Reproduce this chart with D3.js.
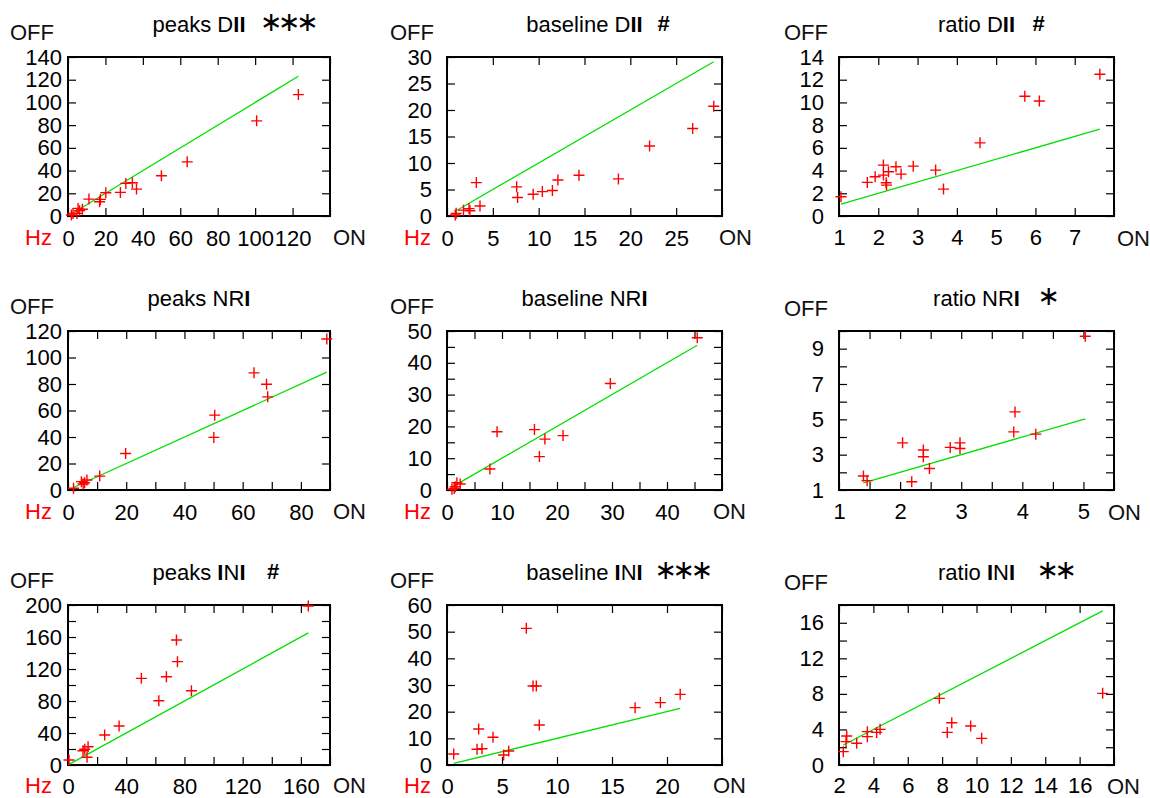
<!DOCTYPE html>
<meta charset="utf-8">
<head>
    <title>ON vs OFF firing rates</title>
    <script type="text/javascript" src="https://cdnjs.cloudflare.com/ajax/libs/d3/7.8.5/d3.min.js"></script>
    <style type="text/css">
        body { margin: 0; background: #fff; }
        svg { font-family: "Liberation Sans", Arial, Helvetica, sans-serif; }
        .sig { font-family: "DejaVu Sans", sans-serif; }
    </style>
</head>
<body>
    <div id="grid"></div>
    <script>
        // [ON, OFF] pairs
        var peaksDII = [[123.1,106.9],[100.8,83.8],[63.7,47.7],[49.9,35.4],[36.6,23.7],[34.4,29.3],[30.9,28.7],[28.0,20.8],[20.2,20.5],[16.9,12.6],[17.3,14.6],[11.2,14.9],[6.2,4.7],[7.7,5.9],[5.4,6.7],[4.8,2.3],[1.8,0.9],[2.7,2.3]];
        var baselineDII = [[29.1,20.7],[26.8,16.5],[22.1,13.2],[18.7,7.0],[14.4,7.7],[12.1,6.8],[11.5,4.8],[10.4,4.6],[9.4,4.1],[7.6,5.5],[7.7,3.5],[3.2,6.3],[3.6,1.9],[2.5,1.0],[2.4,1.4],[1.8,1.1],[1.0,0.5],[0.9,0.2]];
        var ratioDII = [[7.64,12.48],[5.73,10.54],[6.10,10.13],[4.59,6.44],[3.46,4.04],[3.66,2.37],[2.89,4.39],[2.58,3.69],[2.45,4.33],[2.26,3.90],[2.13,4.48],[2.13,3.60],[2.20,2.93],[2.21,2.72],[1.92,3.46],[1.72,2.96],[1.05,1.70]];
        var peaksNRI = [[88.9,114.0],[63.9,88.4],[68.2,79.8],[68.6,70.3],[50.4,56.5],[50.1,39.7],[19.8,27.6],[10.9,10.5],[6.5,7.5],[5.7,5.5],[4.6,6.3],[5.2,4.5],[1.9,1.3]];
        var baselineNRI = [[45.5,47.9],[29.7,33.5],[9.1,18.3],[15.9,19.0],[17.8,16.0],[21.1,17.1],[16.8,10.5],[7.8,6.6],[2.4,1.9],[1.8,2.3],[1.5,1.0],[0.9,0.2],[1.3,0.5]];
        var ratioNRI = [[5.03,9.70],[3.88,5.42],[3.86,4.29],[4.22,4.16],[2.98,3.67],[2.98,3.35],[2.82,3.41],[2.38,3.26],[2.38,2.88],[2.48,2.22],[2.04,3.67],[2.19,1.47],[1.40,1.79],[1.46,1.53]];
        var peaksINI = [[165.1,198.8],[74.5,156.3],[75.2,129.2],[67.6,110.4],[50.4,108.3],[62.4,80.4],[84.8,92.9],[35.1,48.8],[25.2,37.5],[13.8,22.9],[11.5,19.6],[10.3,17.9],[13.1,9.6],[0.7,6.3]];
        var baselineINI = [[7.21,51.25],[7.82,29.6],[8.12,29.6],[8.39,15.0],[17.1,21.5],[19.4,23.4],[21.2,26.5],[2.88,13.5],[4.18,10.4],[2.73,5.9],[3.18,6.1],[5.15,3.75],[5.61,5.25],[0.61,4.1]];
        var ratioINI = [[17.34,8.06],[7.84,7.5],[8.56,4.76],[8.30,3.67],[9.66,4.39],[10.30,3.0],[4.39,4.01],[4.19,3.67],[3.65,3.75],[3.65,3.19],[3.03,2.44],[2.45,3.26],[2.41,2.63],[2.25,1.5]];

        var panelData = [peaksDII, baselineDII, ratioDII, peaksNRI, baselineNRI, ratioNRI, peaksINI, baselineINI, ratioINI];
        var titles = ["peaks DII", "baseline DII", "ratio DII", "peaks NRI", "baseline NRI", "ratio NRI", "peaks INI", "baseline INI", "ratio INI"];
        var sigMarks = ["\u2217\u2217\u2217", "#", "#", "", "", "\u2217", "#", "\u2217\u2217\u2217", "\u2217\u2217"];

        // axis ranges, tick steps and labelled ticks
        var xDomains = [[0,140],[0,30],[1,8],[0,90],[0,50],[1,5.5],[0,180],[0,25],[2,18]];
        var yDomains = [[0,140],[0,30],[0,14],[0,120],[0,50],[1,10],[0,200],[0,60],[0,18]];
        var xSteps = [20,5,1,10,5,0.5,20,5,2];
        var ySteps = [20,5,2,20,5,1,20,10,2];
        var xLabels = [[0,20,40,60,80,100,120],[0,5,10,15,20,25],[1,2,3,4,5,6,7],[0,20,40,60,80],[0,10,20,30,40],[1,2,3,4,5],[0,40,80,120,160],[0,5,10,15,20],[2,4,6,8,10,12,14,16]];
        var yLabels = [[0,20,40,60,80,100,120,140],[0,5,10,15,20,25,30],[0,2,4,6,8,10,12,14],[0,20,40,60,80,100,120],[0,10,20,30,40,50],[1,3,5,7,9],[0,40,80,120,160,200],[0,10,20,30,40,50,60],[0,4,8,12,16]];

        // layout
        var width = 1150, height = 798;
        var colLeft = [68, 447, 839], colRight = [330, 722, 1114];
        var rowTop = [57, 331, 605], rowBottom = [216, 490, 765];
        var yPad = [6, 15, 15];
        var xPad = [14, 14, 13];
        var offX = [10, 390, 784];
        var onDx = [3, -3, 3, 3, -9, -6, 3, -9, -7];
        var sigDx = [61, 73, 56, 0, 0, 61, 68, 70, 60];
        var fs = 22;

        var svg = d3.select("#grid").append("svg")
            .attr("width", width)
            .attr("height", height);

        function hasLabel(list, v) {
            return list.some(function(l){ return Math.abs(l - v) < 1e-6; });
        }

        function styleAxis(g) {
            g.attr("font-size", null).attr("font-family", null);
            g.select(".domain").remove();
            g.selectAll("line").attr("stroke", "#000").attr("stroke-width", 1.2);
            g.selectAll("text").attr("fill", "#000").style("font-size", fs + "px");
        }

        panelData.forEach(function(data, i) {
            var r = Math.floor(i / 3), c = i % 3;
            var x = d3.scaleLinear().domain(xDomains[i]).range([colLeft[c], colRight[c]]);
            var y = d3.scaleLinear().domain(yDomains[i]).range([rowBottom[r], rowTop[r]]);
            var xt = d3.range(xDomains[i][0], xDomains[i][1] + 1e-9, xSteps[i]);
            var yt = d3.range(yDomains[i][0], yDomains[i][1] + 1e-9, ySteps[i]);
            var g = svg.append("g");
            var labelBase = rowBottom[r] + 29 - (r === 2 ? 1 : 0);

            // ticks on all four sides, pointing inwards
            g.append("g").attr("transform", "translate(0," + rowBottom[r] + ")")
                .call(d3.axisBottom(x).tickValues(xt).tickSize(-8).tickPadding(xPad[c] - (r === 2 ? 1 : 0))
                    .tickFormat(function(d){ return hasLabel(xLabels[i], d) ? d : ""; }))
                .call(styleAxis);
            g.append("g").attr("transform", "translate(0," + rowTop[r] + ")")
                .call(d3.axisTop(x).tickValues(xt).tickSize(-8).tickFormat(""))
                .call(styleAxis);
            g.append("g").attr("transform", "translate(" + colLeft[c] + ",0)")
                .call(d3.axisLeft(y).tickValues(yt).tickSize(-8).tickPadding(yPad[c])
                    .tickFormat(function(d){ return hasLabel(yLabels[i], d) ? d : ""; }))
                .call(styleAxis);
            g.append("g").attr("transform", "translate(" + colRight[c] + ",0)")
                .call(d3.axisRight(y).tickValues(yt).tickSize(-8).tickFormat(""))
                .call(styleAxis);

            // frame
            g.append("rect")
                .attr("x", colLeft[c]).attr("y", rowTop[r])
                .attr("width", colRight[c] - colLeft[c])
                .attr("height", rowBottom[r] - rowTop[r])
                .attr("fill", "none").attr("stroke", "#000").attr("stroke-width", 2);

            // identity line over the range of the data
            var ext = d3.extent(data, function(d){ return d[0]; });
            g.append("line")
                .attr("x1", x(ext[0])).attr("y1", y(ext[0]))
                .attr("x2", x(ext[1])).attr("y2", y(ext[1]))
                .attr("stroke", "#00e000").attr("stroke-width", 1.3);

            // red plus markers
            var s = 5.5;
            g.selectAll("path.pt").data(data).enter().append("path")
                .attr("class", "pt")
                .attr("d", function(d){
                    var px = x(d[0]), py = y(d[1]);
                    return "M" + (px - s) + "," + py + "H" + (px + s) + "M" + px + "," + (py - s) + "V" + (py + s);
                })
                .attr("stroke", "#ff0000").attr("stroke-width", 1.4).attr("fill", "none");

            // title, with the I letters in bold
            var cx = (colLeft[c] + colRight[c]) / 2;
            var tBase = rowTop[r] - 25;
            var t = g.append("text").attr("x", cx).attr("y", tBase)
                .attr("text-anchor", "middle").style("font-size", fs + "px");
            titles[i].split("").forEach(function(ch){
                t.append("tspan").attr("font-weight", ch === "I" ? "bold" : null).text(ch);
            });

            if (sigMarks[i] !== "") {
                var isHash = sigMarks[i] === "#";
                g.append("text").attr("class", isHash ? null : "sig")
                    .attr("x", cx + sigDx[i])
                    .attr("y", isHash ? tBase - 1 : tBase - 1)
                    .style("font-size", isHash ? fs + "px" : "27px")
                    .style("letter-spacing", isHash ? null : "-4.5px")
                    .style("font-weight", isHash ? "bold" : null)
                    .text(sigMarks[i]);
            }

            // axis words
            g.append("text").attr("x", offX[c]).attr("y", rowTop[r] - 17 + (c === 2 && r > 0 ? 2 : 0))
                .style("font-size", fs + "px").attr("fill", "#111").text("OFF");
            g.append("text").attr("x", colRight[c] + onDx[i]).attr("y", labelBase + (c === 2 ? 1 : 0))
                .style("font-size", fs + "px").attr("fill", "#111").text("ON");
            if (c < 2) {
                g.append("text").attr("x", colLeft[c] - 43).attr("y", labelBase)
                    .style("font-size", fs + "px").attr("fill", "#ff0000").text("Hz");
            }
        });
    </script>
</body>
</html>
